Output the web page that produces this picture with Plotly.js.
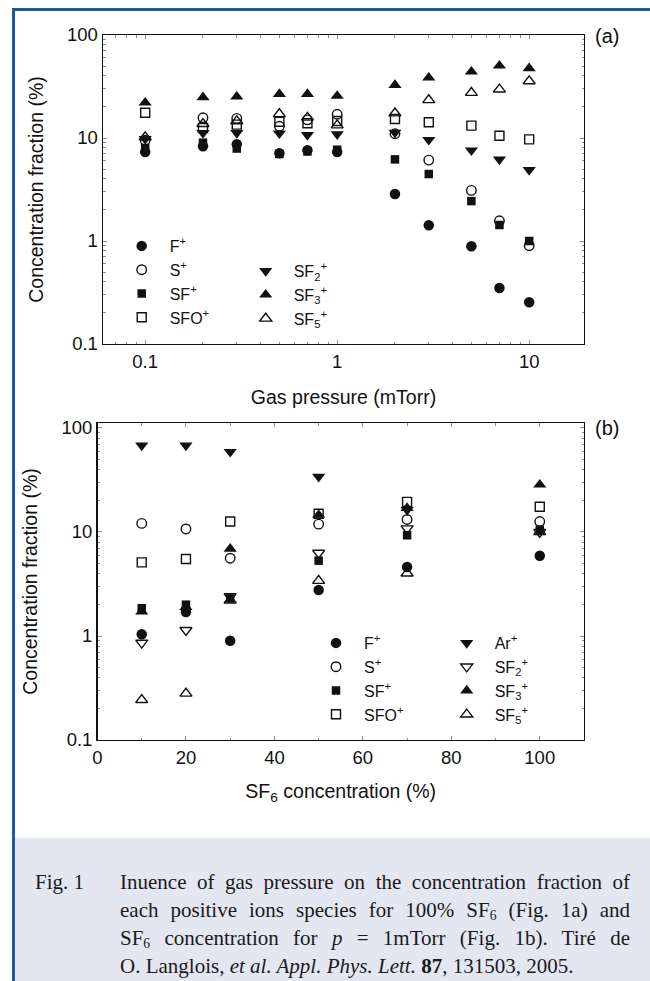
<!DOCTYPE html>
<html>
<head>
<meta charset="utf-8">
<script src="https://cdn.plot.ly/plotly-3.0.1.min.js"></script>
<style>
  html, body { margin:0; padding:0; background:#ffffff; }
  #wrap { position:relative; width:650px; height:981px; overflow:hidden; }
  #frame { position:absolute; left:12px; top:8px; width:650px; height:990px;
           border-left:3px solid #1d5c9c; border-top:3px solid #1d5c9c; }
  #chart { position:absolute; left:0; top:0; width:650px; height:981px; }
  #cap { position:absolute; left:15px; top:838px; width:635px; height:143px; background:#e4e6f2;
         font-family:"Liberation Serif","Times New Roman",serif; font-size:21px; color:#1a1a1a; }
  #cap .fig { position:absolute; left:20px; top:30px; line-height:28px; }
  #cap .body { position:absolute; left:105px; top:30px; width:510px; }
  #cap .ln { height:28px; line-height:28px; text-align:justify; text-align-last:justify; white-space:normal; }
  #cap .ln.last { text-align:left; text-align-last:left; white-space:nowrap; }
  #cap sub { font-size:0.65em; vertical-align:-0.25em; line-height:0; }
</style>
</head>
<body>
<div id="wrap">
  <div id="frame"></div>
  <div id="chart"></div>
  <div id="cap">
    <div class="fig">Fig. 1</div>
    <div class="body">
      <div class="ln">Inuence of gas pressure on the concentration fraction of</div>
      <div class="ln">each positive ions species for 100% SF<sub>6</sub> (Fig. 1a) and</div>
      <div class="ln">SF<sub>6</sub> concentration for <i>p</i> = 1mTorr (Fig. 1b). Tiré de</div>
      <div class="ln last">O. Langlois, <i>et al. Appl. Phys. Lett.</i> <b>87</b>, 131503, 2005.</div>
    </div>
  </div>
</div>
<script>
// ---------- Panel (a): gas pressure (mTorr), 100% SF6 ----------
const pressure = [0.1, 0.2, 0.3, 0.5, 0.7, 1, 2, 3, 5, 7, 10];
const aF   = [7.3, 8.3, 8.7, 7.1, 7.6, 7.3, 2.86, 1.42, 0.89, 0.35, 0.254];
const aS   = [9.5, 15.7, 15.5, 13.0, 15.0, 17.0, 11.0, 6.1, 3.1, 1.57, 0.9];
const aSF  = [8.0, 9.0, 7.9, 7.0, 7.4, 7.7, 6.2, 4.47, 2.44, 1.43, 1.0];
const aSFO = [17.6, 12.5, 13.5, 14.4, 13.9, 14.6, 15.3, 14.2, 13.2, 10.5, 9.7];
const aSF2 = [9.8, 11.2, 11.2, 11.1, 10.7, 10.9, 11.3, 9.6, 7.6, 6.2, 4.9];
const aSF3 = [22.0, 24.8, 25.2, 26.7, 26.7, 25.6, 32.7, 38.5, 44.0, 50.4, 47.5];
const aSF5 = [10.2, 13.7, 14.6, 17.1, 15.8, 13.3, 17.4, 23.4, 27.5, 29.7, 35.7];

// ---------- Panel (b): SF6 concentration (%), p = 1 mTorr ----------
const sf6conc = [10, 20, 30, 50, 70, 100];
const bF   = [1.04, 1.7, 0.9, 2.77, 4.6, 5.9];
const bS   = [12.1, 10.7, 5.6, 11.9, 13.2, 12.6];
const bSF  = [1.85, 2.0, 2.3, 5.3, 9.3, 10.5];
const bSFO = [5.1, 5.5, 12.6, 15.0, 19.5, 17.5];
const bAr  = [68, 68, 59, 34, 16.3, null];
const bSF2 = [0.86, 1.14, 2.4, 6.3, 10.8, 10.0];
const bSF3 = [1.72, 1.9, 6.9, 14.6, 17.0, 28.5];
const bSF5 = [0.243, 0.28, 2.2, 3.4, 4.0, 10.0];

const names = {
  F: 'F<sup>+</sup>', S: 'S<sup>+</sup>', SF: 'SF<sup>+</sup>', SFO: 'SFO<sup>+</sup>',
  Ar: 'Ar<sup>+</sup>', SF2: 'SF<sub>2</sub><sup>+</sup>', SF3: 'SF<sub>3</sub><sup>+</sup>', SF5: 'SF<sub>5</sub><sup>+</sup>'
};
const sym = {
  F:   {symbol:'circle', size:10.5, color:'#111', line:{width:0}},
  S:   {symbol:'circle-open', size:9.5, color:'#111', line:{width:1.4, color:'#111'}},
  SF:  {symbol:'square', size:8.5, color:'#111', line:{width:0}},
  SFO: {symbol:'square-open', size:9, color:'#111', line:{width:1.4, color:'#111'}},
  Ar:  {symbol:'triangle-down', size:11.5, color:'#111', line:{width:0}},
  SF2: {symbol:'triangle-down', size:11.5, color:'#111', line:{width:0}},
  SF2o:{symbol:'triangle-down-open', size:10.5, color:'#111', line:{width:1.4, color:'#111'}},
  SF3: {symbol:'triangle-up', size:11.5, color:'#111', line:{width:0}},
  SF5: {symbol:'triangle-up-open', size:10.5, color:'#111', line:{width:1.4, color:'#111'}}
};
function tr(x, y, key, mk, xa, ya, leg) {
  return {x:x, y:y, name:names[key], type:'scatter', mode:'markers', marker:sym[mk],
          xaxis:xa, yaxis:ya, legend:leg, cliponaxis:false, hoverinfo:'x+y'};
}
const data = [
  tr(pressure, aF,   'F',   'F',   'x',  'y',  'legend'),
  tr(pressure, aS,   'S',   'S',   'x',  'y',  'legend'),
  tr(pressure, aSF,  'SF',  'SF',  'x',  'y',  'legend'),
  tr(pressure, aSFO, 'SFO', 'SFO', 'x',  'y',  'legend'),
  tr(pressure, aSF2, 'SF2', 'SF2', 'x',  'y',  'legend2'),
  tr(pressure, aSF3, 'SF3', 'SF3', 'x',  'y',  'legend2'),
  tr(pressure, aSF5, 'SF5', 'SF5', 'x',  'y',  'legend2'),
  tr(sf6conc, bF,   'F',   'F',    'x2', 'y2', 'legend3'),
  tr(sf6conc, bS,   'S',   'S',    'x2', 'y2', 'legend3'),
  tr(sf6conc, bSF,  'SF',  'SF',   'x2', 'y2', 'legend3'),
  tr(sf6conc, bSFO, 'SFO', 'SFO',  'x2', 'y2', 'legend3'),
  tr(sf6conc, bAr,  'Ar',  'Ar',   'x2', 'y2', 'legend4'),
  tr(sf6conc, bSF2, 'SF2', 'SF2o', 'x2', 'y2', 'legend4'),
  tr(sf6conc, bSF3, 'SF3', 'SF3',  'x2', 'y2', 'legend4'),
  tr(sf6conc, bSF5, 'SF5', 'SF5',  'x2', 'y2', 'legend4')
];

const FONT = 'Liberation Sans, Arial, Helvetica, sans-serif';
const tickCol = '#8a8a8a';
function axisBase(extra) {
  return Object.assign({
    showline:true, linecolor:'#111', linewidth:1.4, mirror:'ticks',
    ticks:'inside', ticklen:4, tickwidth:1, tickcolor:tickCol,
    showgrid:false, zeroline:false,
    tickfont:{family:FONT, size:18.5, color:'#111'},
    automargin:false
  }, extra);
}
const legBase = {font:{family:FONT, size:16, color:'#111'}, bgcolor:'rgba(0,0,0,0)',
                 borderwidth:0, itemwidth:46, xanchor:'left', yanchor:'top', tracegroupgap:0};

const layout = {
  width:650, height:981,
  margin:{l:0, r:0, t:0, b:0},
  paper_bgcolor:'rgba(0,0,0,0)', plot_bgcolor:'#ffffff',
  font:{family:FONT, color:'#111'},
  showlegend:true,
  xaxis: axisBase({type:'log', domain:[103/650, 584/650], anchor:'y',
    range:[Math.log10(0.0603), Math.log10(19.3)], dtick:1,
    minor:{dtick:'D1', ticks:'inside', ticklen:2.5, tickcolor:tickCol, showgrid:false},
    title:{text:'Gas pressure (mTorr)', font:{family:FONT, size:19.5, color:'#111'}, standoff:19}}),
  yaxis: axisBase({type:'log', domain:[1-344/981, 1-35/981], anchor:'x',
    range:[-1, 2], dtick:1,
    minor:{dtick:'D1', ticks:'inside', ticklen:2.5, tickcolor:tickCol, showgrid:false},
    title:{text:'Concentration fraction (%)', font:{family:FONT, size:19.5, color:'#111'}, standoff:18}}),
  xaxis2: axisBase({domain:[97.5/650, 584/650], anchor:'y2',
    range:[0, 110], dtick:20, tick0:0,
    minor:{dtick:10, ticks:'inside', ticklen:2.5, tickcolor:tickCol, showgrid:false},
    title:{text:'SF<sub>6</sub> concentration (%)', font:{family:FONT, size:19.5, color:'#111'}, standoff:17}}),
  yaxis2: axisBase({type:'log', domain:[1-740/981, 1-423/981], anchor:'x2',
    range:[-1, 2.048], dtick:1,
    minor:{dtick:'D1', ticks:'inside', ticklen:2.5, tickcolor:tickCol, showgrid:false},
    title:{text:'Concentration fraction (%)', font:{family:FONT, size:19.5, color:'#111'}, standoff:18}}),
  legend:  Object.assign({}, legBase, {x:113.7/650, y:1-229/981}),
  legend2: Object.assign({}, legBase, {x:237.7/650, y:1-254/981}),
  legend3: Object.assign({}, legBase, {x:308/650,   y:1-626/981}),
  legend4: Object.assign({}, legBase, {x:438.7/650, y:1-626/981}),
  annotations:[
    {text:'(a)', xref:'paper', yref:'paper', x:607/650, y:1-36/981, showarrow:false,
     font:{family:FONT, size:20, color:'#111'}, xanchor:'center', yanchor:'middle'},
    {text:'(b)', xref:'paper', yref:'paper', x:607/650, y:1-428/981, showarrow:false,
     font:{family:FONT, size:20, color:'#111'}, xanchor:'center', yanchor:'middle'}
  ]
};
Plotly.newPlot('chart', data, layout, {displayModeBar:false, staticPlot:true});
</script>
</body>
</html>
